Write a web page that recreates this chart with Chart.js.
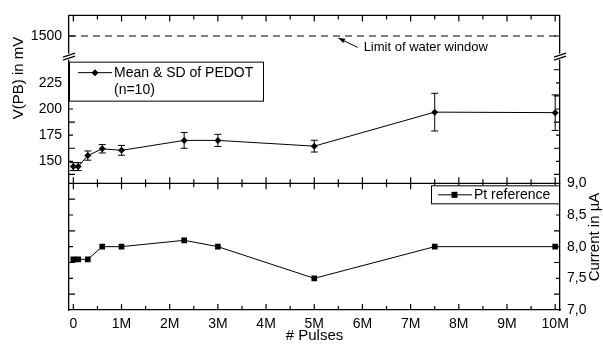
<!DOCTYPE html>
<html>
<head>
<meta charset="utf-8">
<script src="https://cdn.jsdelivr.net/npm/chart.js@4/dist/chart.umd.min.js"></script>
<style>
  html, body { margin: 0; padding: 0; background: #fff; }
  #wrap { width: 603px; height: 347px; }
</style>
</head>
<body>
<div id="wrap"><canvas id="pulseChart" width="603" height="347"></canvas></div>
<script>
// values
const pulses = [0, 100000, 300000, 600000, 1000000, 2300000, 3000000, 5000000, 7500000, 10000000];
const pedotMean = [145, 145, 155.5, 162, 160.5, 170, 170, 164.5, 197, 196.5];
const pedotSd = [3.8, 3.8, 4.4, 4, 4.7, 7.5, 5.8, 5.6, 18, 17];
const ptCurrent = [7.8, 7.8, 7.8, 8.0, 8.0, 8.1, 8.0, 7.5, 8.0, 8.0];
const waterLimit = 1500;

const xTicks = [0, 1e6, 2e6, 3e6, 4e6, 5e6, 6e6, 7e6, 8e6, 9e6, 10e6];
const xTickLabels = ['0', '1M', '2M', '3M', '4M', '5M', '6M', '7M', '8M', '9M', '10M'];
const voltTicksTop = [1500];
const voltTicks = [150, 175, 200, 225];
const currentTicks = [7.0, 7.5, 8.0, 8.5, 9.0];
const currentTickLabels = ['7,0', '7,5', '8,0', '8,5', '9,0'];

const xMin = -90000, xMax = 10100000;
const family = '"Liberation Sans", Arial, Helvetica, sans-serif';
const ink = '#000';

function setTicks(values) {
    return function (scale) { scale.ticks = values.map(v => ({value: v})); };
}
function fixWidth(w) {
    return function (scale) { scale.width = w; };
}
function yAxis(pos, stack, weight, min, max, ticks, showLabels, labels) {
    return {
        type: 'linear', position: pos, stack: stack, stackWeight: weight,
        min: min, max: max,
        afterBuildTicks: setTicks(ticks),
        afterFit: fixWidth(pos === 'left' ? 69 : 43),
        grid: {display: false, drawTicks: false},
        border: {color: ink, width: 1.3},
        ticks: {
            display: showLabels, color: ink, padding: 7, autoSkip: false,
            font: {family: family, size: 14},
            callback: function (v, i) { return labels ? labels[i] : v; }
        }
    };
}

// inward tick marks, drawn along the library's scales
function tickSet(from, to, step, majorEvery) {
    const out = [];
    for (let v = from; v <= to + 1e-9; v += step) {
        const k = Math.round((v - from) / step);
        out.push({v: v, major: k % majorEvery === 0});
    }
    return out;
}

const decor = {
    id: 'decor',
    afterDatasetsDraw(chart) {
        const ctx = chart.ctx;
        const s = chart.scales;
        ctx.save();
        ctx.strokeStyle = ink;
        ctx.lineWidth = 1;
        // error bars
        pulses.forEach((p, i) => {
            const px = s.x.getPixelForValue(p);
            const hi = s.yMid.getPixelForValue(pedotMean[i] + pedotSd[i]);
            const lo = s.yMid.getPixelForValue(pedotMean[i] - pedotSd[i]);
            ctx.beginPath();
            ctx.moveTo(px, hi); ctx.lineTo(px, lo);
            ctx.moveTo(px - 3.5, hi); ctx.lineTo(px + 3.5, hi);
            ctx.moveTo(px - 3.5, lo); ctx.lineTo(px + 3.5, lo);
            ctx.stroke();
        });
        ctx.restore();
    },
    afterDraw(chart) {
        const ctx = chart.ctx;
        const s = chart.scales;
        const area = chart.chartArea;
        const midY = s.yBotL.top;
        ctx.save();
        ctx.strokeStyle = ink;
        ctx.fillStyle = ink;

        // frame top and panel divider
        ctx.lineWidth = 1.3;
        ctx.beginPath();
        ctx.moveTo(area.left, area.top); ctx.lineTo(area.right, area.top);
        ctx.moveTo(area.left, midY); ctx.lineTo(area.right, midY);
        ctx.stroke();

        // x ticks
        ctx.lineWidth = 1.2;
        ctx.beginPath();
        tickSet(0, 10e6, 0.5e6, 2).forEach(t => {
            const px = s.x.getPixelForValue(t.v);
            const len = t.major ? 6 : 4;
            ctx.moveTo(px, area.bottom); ctx.lineTo(px, area.bottom - len);
            ctx.moveTo(px, midY - len); ctx.lineTo(px, midY + len);
            ctx.moveTo(px, area.top); ctx.lineTo(px, area.top + len);
        });
        // y ticks, left and right
        const yGroups = [
            [s.yTop, [{v: 1500, major: true}]],
            [s.yMid, tickSet(137.5, 237.5, 12.5, 2)],
            [s.yBotL, tickSet(7.25, 8.75, 0.25, 2)]
        ];
        yGroups.forEach(([sc, list]) => {
            list.forEach(t => {
                const py = sc.getPixelForValue(t.v);
                const len = t.major ? 6 : 4;
                ctx.moveTo(area.left, py); ctx.lineTo(area.left + len, py);
                ctx.moveTo(area.right, py); ctx.lineTo(area.right - len, py);
            });
        });
        ctx.stroke();

        // axis breaks
        const by = s.yTop.bottom;
        [area.left, area.right].forEach(bx => {
            ctx.fillStyle = '#fff';
            ctx.fillRect(bx - 2, by - 3, 4, 6);
            ctx.lineWidth = 1.1;
            ctx.beginPath();
            ctx.moveTo(bx - 6, by + 0.5); ctx.lineTo(bx + 6, by - 3.5);
            ctx.moveTo(bx - 6, by + 3.5); ctx.lineTo(bx + 6, by - 0.5);
            ctx.stroke();
        });
        ctx.fillStyle = ink;

        // annotation arrow + text
        const tipX = s.x.getPixelForValue(5.5e6), tipY = s.yTop.getPixelForValue(1496);
        const tailX = s.x.getPixelForValue(5.9e6), tailY = s.yTop.getPixelForValue(1478);
        const ang = Math.atan2(tipY - tailY, tipX - tailX);
        ctx.lineWidth = 1;
        ctx.beginPath();
        ctx.moveTo(tailX, tailY); ctx.lineTo(tipX, tipY);
        ctx.stroke();
        ctx.beginPath();
        ctx.moveTo(tipX, tipY);
        ctx.lineTo(tipX - 7 * Math.cos(ang - 0.35), tipY - 7 * Math.sin(ang - 0.35));
        ctx.lineTo(tipX - 7 * Math.cos(ang + 0.35), tipY - 7 * Math.sin(ang + 0.35));
        ctx.closePath();
        ctx.fill();
        ctx.font = '13px ' + family;
        ctx.textAlign = 'left';
        ctx.textBaseline = 'middle';
        ctx.fillText('Limit of water window', tailX + 6, tailY);

        // legend: PEDOT
        const lx = area.left, ly = s.yMid.top + 5;
        ctx.lineWidth = 1;
        ctx.fillStyle = '#fff';
        ctx.fillRect(lx, ly, 194, 39);
        ctx.strokeRect(lx + 0.5, ly + 0.5, 194, 39);
        ctx.fillStyle = ink;
        ctx.beginPath();
        ctx.moveTo(lx + 9, ly + 11); ctx.lineTo(lx + 43, ly + 11);
        ctx.stroke();
        ctx.beginPath();
        ctx.moveTo(lx + 26, ly + 7.5); ctx.lineTo(lx + 29.5, ly + 11);
        ctx.lineTo(lx + 26, ly + 14.5); ctx.lineTo(lx + 22.5, ly + 11);
        ctx.closePath(); ctx.fill();
        ctx.font = '14px ' + family;
        ctx.fillText('Mean & SD of PEDOT', lx + 45, ly + 11);
        ctx.fillText('(n=10)', lx + 45, ly + 28);

        // legend: Pt reference
        const pw = 128, ph = 18;
        const px0 = area.right - pw - 1, py0 = s.yBotR.top + 2;
        ctx.fillStyle = '#fff';
        ctx.fillRect(px0, py0, pw, ph);
        ctx.strokeRect(px0 + 0.5, py0 + 0.5, pw, ph);
        ctx.fillStyle = ink;
        ctx.beginPath();
        ctx.moveTo(px0 + 7, py0 + 9.5); ctx.lineTo(px0 + 41, py0 + 9.5);
        ctx.stroke();
        ctx.fillRect(px0 + 20.5, py0 + 6.5, 6, 6);
        ctx.fillText('Pt reference', px0 + 43, py0 + 9.5);

        // axis titles (both read bottom-to-top)
        ctx.font = '15px ' + family;
        ctx.textAlign = 'center';
        ctx.save();
        ctx.translate(19, 78);
        ctx.rotate(-Math.PI / 2);
        ctx.fillText('V(PB) in mV', 0, 0);
        ctx.restore();
        ctx.save();
        ctx.translate(595, 237);
        ctx.rotate(-Math.PI / 2);
        ctx.fillText('Current in µA', 0, 0);
        ctx.restore();

        ctx.restore();
    }
};

const ctx = document.getElementById('pulseChart').getContext('2d');
const pulseChart = new Chart(ctx, {
    type: 'line',
    data: {
        datasets: [
            {
                label: 'Limit of water window',
                data: [{x: xMin, y: waterLimit}, {x: xMax, y: waterLimit}],
                xAxisID: 'x', yAxisID: 'yTop',
                borderColor: ink, borderWidth: 1.2, borderDash: [7, 5],
                pointRadius: 0
            },
            {
                label: 'Mean & SD of PEDOT (n=10)',
                data: pulses.map((p, i) => ({x: p, y: pedotMean[i]})),
                xAxisID: 'x', yAxisID: 'yMid',
                borderColor: ink, borderWidth: 1, backgroundColor: ink,
                pointStyle: 'rectRot', pointRadius: 3.5, pointBorderWidth: 0
            },
            {
                label: 'Pt reference',
                data: pulses.map((p, i) => ({x: p, y: ptCurrent[i]})),
                xAxisID: 'x', yAxisID: 'yBotR',
                borderColor: ink, borderWidth: 1, backgroundColor: ink,
                pointStyle: 'rect', pointRadius: 4, pointBorderWidth: 0
            }
        ]
    },
    options: {
        responsive: false,
        animation: false,
        devicePixelRatio: 1,
        layout: {padding: {top: 10, left: 0, right: 0, bottom: 0}},
        plugins: {legend: {display: false}, tooltip: {enabled: false}},
        scales: {
            x: {
                type: 'linear', position: 'bottom', min: xMin, max: xMax,
                afterBuildTicks: setTicks(xTicks),
                afterFit: function (scale) { scale.height = 37; },
                grid: {display: false, drawTicks: false},
                border: {color: ink, width: 1.3},
                ticks: {
                    color: ink, padding: 6, maxRotation: 0, autoSkip: false,
                    font: {family: family, size: 14},
                    callback: function (v, i) { return xTickLabels[i]; }
                },
                title: {
                    display: true, text: '# Pulses', color: ink,
                    font: {family: family, size: 15}, padding: {top: 0, bottom: 2}
                }
            },
            yBotL: yAxis('left', 'left', 129, 7, 9, currentTicks, false),
            yMid: yAxis('left', 'left', 129, 129, 250, voltTicks, true),
            yTop: yAxis('left', 'left', 42, 1460, 1540, voltTicksTop, true),
            yTopR: yAxis('right', 'right', 42, 1460, 1540, voltTicksTop, false),
            yMidR: yAxis('right', 'right', 129, 129, 250, voltTicks, false),
            yBotR: yAxis('right', 'right', 129, 7, 9, currentTicks, true, currentTickLabels)
        }
    },
    plugins: [decor]
});
</script>
</body>
</html>
